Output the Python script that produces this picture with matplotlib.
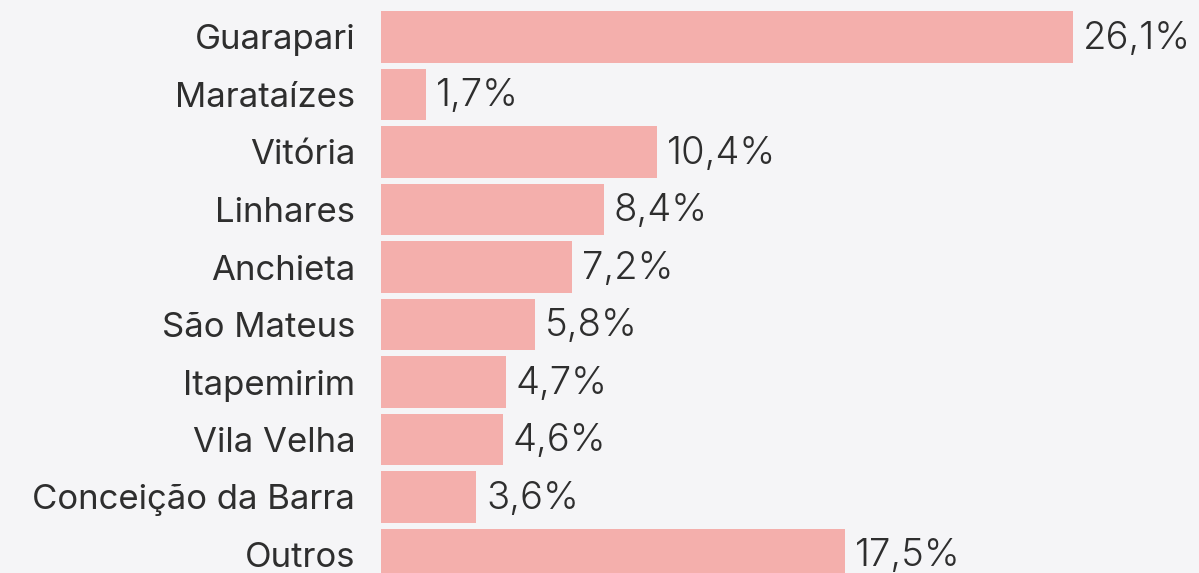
'''
Horizontal bar chart: share by municipality
'''
import matplotlib
matplotlib.use("Agg")
import matplotlib.pyplot as plt

# Data
cidades = ["Guarapari", "Marataízes", "Vitória", "Linhares", "Anchieta",
           "São Mateus", "Itapemirim", "Vila Velha", "Conceição da Barra", "Outros"]
valores = [26.1, 1.7, 10.4, 8.4, 7.2, 5.8, 4.7, 4.6, 3.6, 17.5]

BG = "#f5f5f7"
BAR = "#f4afac"
TXT = "#2e2e2e"

fig = plt.figure(figsize=(11.99, 5.73), dpi=100, facecolor=BG)
left = 381 / 1199
ax = fig.add_axes([left, 0, 1 - left, 1], facecolor=BG)

pos = list(range(len(cidades)))
ax.barh(pos, valores, height=0.9, color=BAR)

# value labels next to each bar
for p, v in zip(pos, valores):
    txt = f"{v:.1f}".replace(".", ",") + "%"
    ax.text(v + 0.38, p + 0.03, txt, va="center", ha="left", fontsize=27.5,
            color=TXT, family="Inter", fontweight=300)

ax.set_xlim(0, (1199 - 381) / 26.5)
ax.set_ylim((573 - 37) / 57.5, -37 / 57.5)

ax.set_yticks(pos)
ax.set_yticklabels(cidades, fontsize=25, color=TXT, family="Inter")
ax.tick_params(axis="y", length=0, pad=18.5)
ax.set_xticks([])
for s in ax.spines.values():
    s.set_visible(False)

fig.savefig("out.png", dpi=100, facecolor=BG)
